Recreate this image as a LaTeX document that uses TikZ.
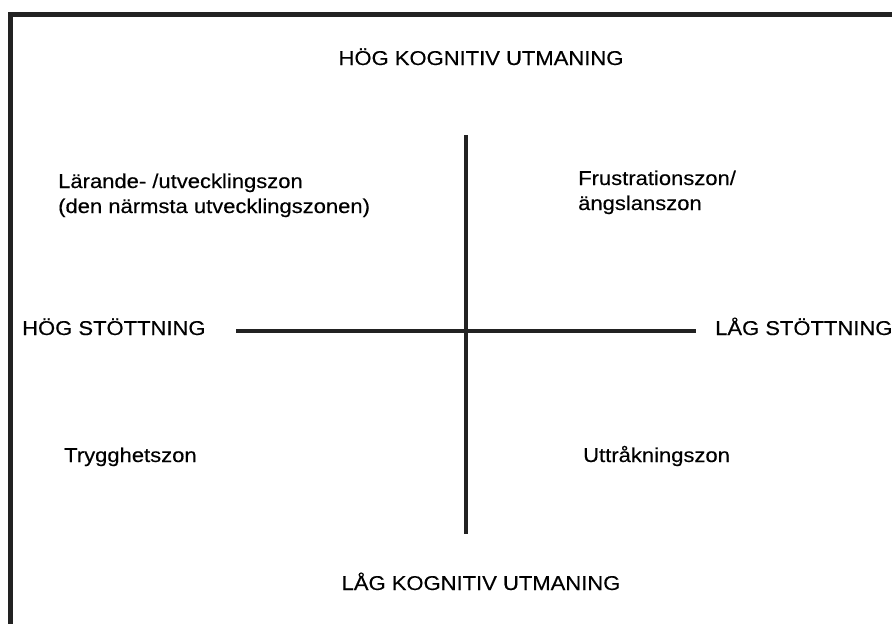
\documentclass[tikz,border=0pt]{standalone}
\usepackage{fontspec}
\setmainfont{Liberation Sans}[FakeStretch=1.1, FakeBold=0.3]
\definecolor{framegray}{HTML}{222222}
\tikzset{
  zone/.style={anchor=base west, inner sep=0pt, align=left, font=\fontsize{20}{25}\selectfont},
  pole/.style={anchor=base, inner sep=0pt, font=\fontsize{20}{25}\selectfont},
  axis/.style={line width=3.6pt, color=framegray}
}
\begin{document}
\begin{tikzpicture}[x=1pt, y=-1pt]
\useasboundingbox (0,0) rectangle (892,624);
\fill[white] (0,0) rectangle (892,624);
\draw[line width=5pt, framegray] (10,700) -- (10,14) -- (950,14);

\node[pole] (high) at (481,65) {HÖG KOGNITIV UTMANING};
\node[pole] (low) at (481,590) {LÅG KOGNITIV UTMANING};
\node[pole, anchor=base west] (hsupp) at (22,335) {HÖG STÖTTNING};
\node[pole, anchor=base west] (lsupp) at (715,335) {LÅG STÖTTNING};

% base anchor sits on the last line
\node[zone] (learn) at (58,213) {Lärande- /utvecklingszon\\(den närmsta utvecklingszonen)};
\node[zone] (frust) at (578,210) {Frustrationszon/\\ängslanszon};
\node[zone] (safe) at (64,462) {Trygghetszon};
\node[zone] (bore) at (583,462) {Uttråkningszon};

\coordinate (top) at (466,135);
\coordinate (bottom) at (466,534);
\coordinate (left) at (236,331);
\coordinate (right) at (696,331);

\draw[axis] (top) -- (bottom);
\draw[axis] (left) -- (right);
\end{tikzpicture}
\end{document}
